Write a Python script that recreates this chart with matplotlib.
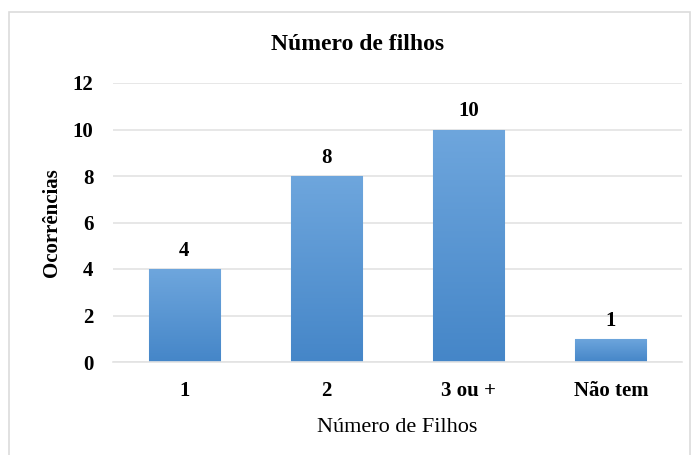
import numpy as np
import matplotlib.pyplot as plt
from matplotlib.patches import Rectangle

categorias = ["1", "2", "3 ou +", "Não tem"]
ocorrencias = [4, 8, 10, 1]
y_ticks = [0, 2, 4, 6, 8, 10, 12]

plt.rcParams['font.family'] = ['Liberation Serif', 'DejaVu Serif']

fig = plt.figure(figsize=(6.94, 4.55), dpi=100)
ax = fig.add_axes([113 / 694, 1 - 362 / 455, 569 / 694, 279 / 455])

# moldura do gráfico
fig.patches.append(Rectangle((9 / 694, -0.01), 681 / 694, 1 - 12 / 455 + 0.01,
                             transform=fig.transFigure, fill=False,
                             edgecolor='#dcdcdc', linewidth=1.2))

x = np.arange(len(categorias))
bars = ax.bar(x, ocorrencias, width=0.5, color='#5b9bd5', edgecolor='#8fbbe6',
              linewidth=0.8, zorder=2)

# gradiente vertical nas barras
grad = np.linspace(0, 1, 256).reshape(-1, 1)
cmap = plt.matplotlib.colors.LinearSegmentedColormap.from_list('g', ['#4586c8', '#6ea6dd'])
for b in bars:
    xb, w, h = b.get_x(), b.get_width(), b.get_height()
    im = ax.imshow(grad, extent=[xb, xb + w, 0, h], origin='lower', cmap=cmap,
                   aspect='auto', zorder=2.5)
    im.set_clip_path(b)

for xi, v in zip(x, ocorrencias):
    ax.text(xi, v + 0.35, str(v), ha='center', va='bottom', fontsize=15, fontweight='bold')

ax.set_xlim(-0.5, len(categorias) - 0.5)
ax.set_ylim(0, 12)
ax.set_yticks(y_ticks)
ax.set_xticks(x)
ax.set_xticklabels(categorias, fontsize=15, fontweight='bold')
ax.set_yticklabels([str(t) for t in y_ticks], fontsize=15, fontweight='bold')
ax.tick_params(length=0, pad=14)
ax.tick_params(axis='x', pad=14)
ax.grid(axis='y', color='#e3e3e3', linewidth=1.2, zorder=0)
ax.set_axisbelow(True)
for s in ['top', 'right', 'left']:
    ax.spines[s].set_visible(False)
ax.spines['bottom'].set_color('#e3e3e3')
ax.spines['bottom'].set_linewidth(1.2)

ax.set_xlabel("Número de Filhos", fontsize=16, labelpad=12)
ax.set_ylabel("Ocorrências", fontsize=15, fontweight='bold', labelpad=8)
fig.text(358 / 694, 1 - 45 / 455, "Número de filhos", ha='center', va='center',
         fontsize=17, fontweight='bold')

fig.savefig("out.png", dpi=100)
